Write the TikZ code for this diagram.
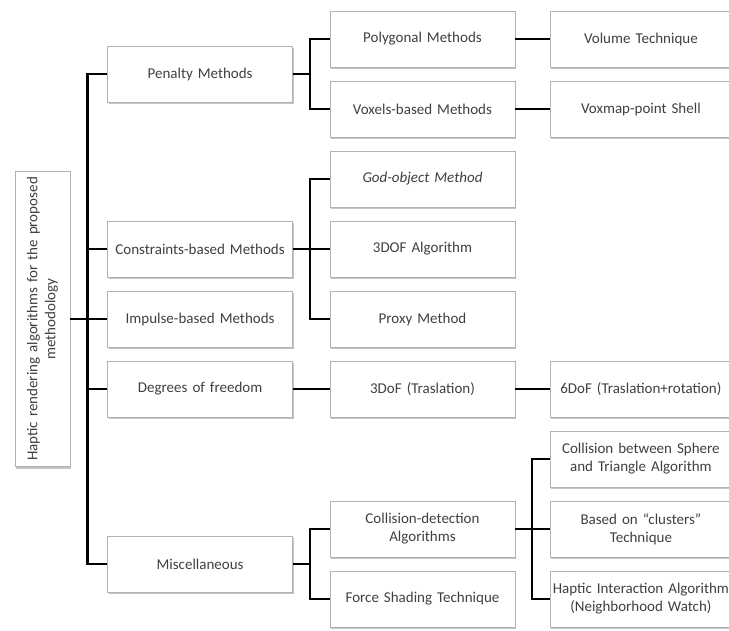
\documentclass[tikz,border=0pt]{standalone}
\usepackage{fontspec}
\setmainfont{Carlito}
\usepackage{graphicx}
\usetikzlibrary{positioning, shadows}
\tikzstyle{box} = [rectangle, minimum width=185pt, minimum height=56pt, text width=181pt, align=center, inner sep=2pt, draw=black!30, fill=white, text=black!75, font=\fontsize{15}{18}\selectfont, drop shadow={shadow xshift=1pt, shadow yshift=-2pt, fill=black!45}]
\tikzstyle{leafbox} = [box, minimum width=179pt, text width=177pt]
\tikzstyle{rootbox} = [box, minimum width=55pt, minimum height=295pt, text width=45pt]
\tikzstyle{link} = [line width=2.5pt, black]

\begin{document}
\begin{tikzpicture}[node distance=70pt]

\useasboundingbox (0pt,0pt) rectangle (729pt,-630pt);


% Second level

	\node (polygonal) [box] at (422.5pt,-39pt) {Polygonal Methods};

	\node (voxels) [box, below of=polygonal] {Voxels-based Methods};

	\node (godObject) [box, below of=voxels] {\textit{God-object Method}};

	\node (dofAlgorithm) [box, below of=godObject] {3DOF Algorithm};

	\node (proxy) [box, below of=dofAlgorithm] {Proxy Method};

	\node (dofThree) [box, below of=proxy] {3DoF (Traslation)};

	\node (collision) [box, below of=dofThree, yshift=-70pt] {Collision-detection\\Algorithms};

	\node (forceShading) [box, below of=collision] {Force Shading Technique};


% First level

	\node (penalty) [box, left=37pt of polygonal, yshift=-35pt] {Penalty Methods};

	\node (constraints) [box, left=37pt of dofAlgorithm] {Constraints-based Methods};

	\node (impulse) [box, left=37pt of proxy] {Impulse-based Methods};

	\node (freedom) [box, left=37pt of dofThree] {Degrees of freedom};

	\node (misc) [box, left=37pt of collision, yshift=-35pt] {Miscellaneous};


% Root

	\node (root) [rootbox, left=37pt of impulse] {\rotatebox{90}{\begin{tabular}{@{}c@{}}Haptic rendering algorithms for the proposed\\methodology\end{tabular}}};


% Third level

	\node (volume) [leafbox, right=35pt of polygonal] {Volume Technique};

	\node (voxmap) [leafbox, right=35pt of voxels] {Voxmap-point Shell};

	\node (dofSix) [leafbox, right=35pt of dofThree] {6DoF (Traslation+rotation)};

	\node (sphere) [leafbox, right=35pt of collision, yshift=70pt] {Collision between Sphere\\and Triangle Algorithm};

	\node (clusters) [leafbox, right=35pt of collision] {Based on ``clusters''\\Technique};

	\node (neighborhood) [leafbox, right=35pt of forceShading] {Haptic Interaction Algorithm\\(Neighborhood Watch)};






% Root to first level
	\draw [link] (root.east) -- ++(17pt,0) |- (penalty.west);
	\draw [link] (root.east) -- ++(17pt,0) |- (constraints.west);
	\draw [link] (root.east) -- (impulse.west);
	\draw [link] (root.east) -- ++(17pt,0) |- (freedom.west);
	\draw [link] (root.east) -- ++(17pt,0) |- (misc.west);


% Penalty methods
	\draw [link] (penalty.east) -- ++(17pt,0) |- (polygonal.west);
	\draw [link] (penalty.east) -- ++(17pt,0) |- (voxels.west);

	\draw [link] (polygonal.east) -- (volume.west);
	\draw [link] (voxels.east) -- (voxmap.west);


% Constraints-based methods
	\draw [link] (constraints.east) -- ++(17pt,0) |- (godObject.west);
	\draw [link] (constraints.east) -- (dofAlgorithm.west);
	\draw [link] (constraints.east) -- ++(17pt,0) |- (proxy.west);


% Degrees of freedom
	\draw [link] (freedom.east) -- (dofThree.west);
	\draw [link] (dofThree.east) -- (dofSix.west);


% Miscellaneous
	\draw [link] (misc.east) -- ++(17pt,0) |- (collision.west);
	\draw [link] (misc.east) -- ++(17pt,0) |- (forceShading.west);

	\draw [link] (collision.east) -- ++(17pt,0) |- (sphere.west);
	\draw [link] (collision.east) -- (clusters.west);
	\draw [link] (collision.east) -- ++(17pt,0) |- (neighborhood.west);


\end{tikzpicture}
\end{document}
